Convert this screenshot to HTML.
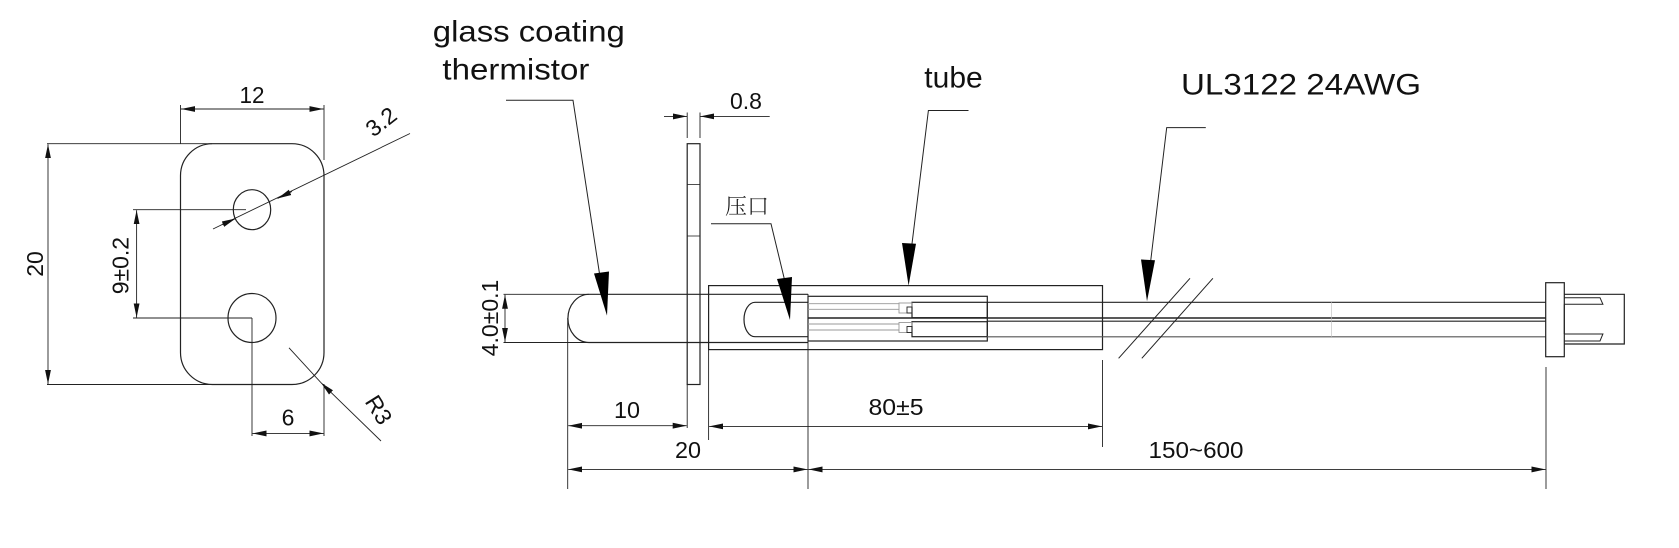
<!DOCTYPE html>
<html><head><meta charset="utf-8"><style>
html,body{margin:0;padding:0;background:#fff;}
svg{display:block;}
text{font-family:"Liberation Sans","Noto Sans CJK SC",sans-serif;fill:#111;}
</style></head><body>
<svg width="1679" height="548" viewBox="0 0 1679 548" xmlns="http://www.w3.org/2000/svg">
<defs>
<marker id="a" markerUnits="userSpaceOnUse" markerWidth="14" markerHeight="8" refX="12" refY="3" orient="auto-start-reverse" viewBox="0 0 12 6">
<path d="M0,0.5 L12,3 L0,5.5 Z" fill="#111"/>
</marker>
</defs>
<g stroke="#222" stroke-width="1.2" fill="none">
<rect x="180.5" y="143.7" width="143.5" height="240.8" rx="32" ry="32"/>
<ellipse cx="252" cy="209.7" rx="18.7" ry="20"/>
<ellipse cx="252" cy="318" rx="24" ry="24.5"/>
<line x1="180.5" y1="105" x2="180.5" y2="143.7" stroke-width="0.9"/>
<line x1="324" y1="105" x2="324" y2="160" stroke-width="0.9"/>
<line x1="181" y1="109" x2="323.5" y2="109" marker-start="url(#a)" marker-end="url(#a)" stroke-width="0.9"/>
<line x1="47" y1="143.7" x2="212" y2="143.7" stroke-width="0.9"/>
<line x1="47" y1="384.5" x2="212" y2="384.5" stroke-width="0.9"/>
<line x1="48" y1="144.2" x2="48" y2="384" marker-start="url(#a)" marker-end="url(#a)" stroke-width="0.9"/>
<line x1="133" y1="209.7" x2="246" y2="209.7" stroke-width="0.9"/>
<line x1="133" y1="318" x2="252" y2="318" stroke-width="0.9"/>
<line x1="136.6" y1="210.2" x2="136.6" y2="317.5" marker-start="url(#a)" marker-end="url(#a)" stroke-width="0.9"/>
<line x1="252" y1="318" x2="252" y2="436" stroke-width="0.9"/>
<line x1="324" y1="384" x2="324" y2="436" stroke-width="0.9"/>
<line x1="252.5" y1="433.4" x2="323.5" y2="433.4" marker-start="url(#a)" marker-end="url(#a)" stroke-width="0.9"/>
<!-- 3.2 leader continuous -->
<line x1="213" y1="229" x2="410" y2="133.5" stroke-width="0.9"/>
<line x1="222" y1="224.6" x2="235.7" y2="218.5" marker-end="url(#a)" stroke-width="0.9"/>
<line x1="292" y1="191.5" x2="277.5" y2="198.5" marker-end="url(#a)" stroke-width="0.9"/>
<line x1="381" y1="441" x2="321" y2="382.7" marker-end="url(#a)" stroke-width="0.9"/>
<line x1="321" y1="382.7" x2="289" y2="347.8" stroke-width="0.9"/>

<path d="M700,294.3 L589,294.3 A21,24 0 0 0 589,342.5 L700,342.5"/>
<line x1="700" y1="294.3" x2="808" y2="294.3"/>
<line x1="700" y1="342.5" x2="808" y2="342.5"/>
<rect x="687.2" y="143.7" width="12.8" height="240.8"/>
<line x1="687.2" y1="184.5" x2="700" y2="184.5" stroke-width="0.8"/>
<line x1="687.2" y1="236" x2="700" y2="236" stroke-width="0.8"/>
<rect x="708.6" y="285.6" width="393.9" height="64"/>
<path d="M808,302.3 L755,302.3 A11,17.2 0 0 0 755,336.7 L808,336.7"/>
<line x1="808" y1="294" x2="808" y2="489" stroke-width="0.9"/>
<rect x="808" y="296.3" width="179.3" height="44.7"/>
<rect x="912" y="302.3" width="75.3" height="15.4"/>
<rect x="912" y="321.7" width="75.3" height="15"/>
<g stroke="#999" stroke-width="0.9">
<line x1="808" y1="303.7" x2="899" y2="303.7"/><line x1="808" y1="309.3" x2="899" y2="309.3"/>
<line x1="808" y1="324" x2="899" y2="324"/><line x1="808" y1="330" x2="899" y2="330"/>
<rect x="899" y="303" width="13" height="10"/><rect x="899" y="322.5" width="13" height="10"/>
</g>
<rect x="907" y="307" width="5" height="6" stroke-width="0.9"/>
<rect x="907" y="326.5" width="5" height="6" stroke-width="0.9"/>
<line x1="987" y1="302.3" x2="1546" y2="302.3"/>
<line x1="808" y1="318" x2="1546" y2="318" stroke-width="1.6"/>
<line x1="987" y1="321.2" x2="1546" y2="321.2"/>
<line x1="987" y1="336.8" x2="1546" y2="336.8" stroke="#555"/>
<line x1="1331.7" y1="302" x2="1331.7" y2="337" stroke="#bbb" stroke-width="0.6"/>
<line x1="1190" y1="278.3" x2="1118.6" y2="358.3" stroke-width="1"/>
<line x1="1212.9" y1="278.3" x2="1141.8" y2="358.3" stroke-width="1"/>
<rect x="1545.7" y="282.7" width="18.6" height="74"/>
<path d="M1564.3,294.3 L1624.3,294.3 L1624.3,344 L1564.3,344"/>
<path d="M1564.3,297.7 L1600,297.7 L1602.9,304.3 L1564.3,304.3 M1564.3,304.3 L1564.3,334 M1564.3,334 L1602.9,334 L1600,341 L1564.3,341" stroke-width="1"/>
<line x1="687.2" y1="112.5" x2="687.2" y2="138" stroke-width="0.9"/>
<line x1="700" y1="112.5" x2="700" y2="138" stroke-width="0.9"/>
<line x1="664" y1="116.4" x2="687" y2="116.4" marker-end="url(#a)" stroke-width="0.9"/>
<line x1="769.7" y1="116.4" x2="700.2" y2="116.4" marker-end="url(#a)" stroke-width="0.9"/>
<line x1="503.5" y1="294.3" x2="589" y2="294.3" stroke-width="0.9"/>
<line x1="503.5" y1="342.5" x2="589" y2="342.5" stroke-width="0.9"/>
<line x1="505" y1="294.8" x2="505" y2="342" marker-start="url(#a)" marker-end="url(#a)" stroke-width="0.9"/>
<line x1="567.7" y1="318" x2="567.7" y2="489" stroke-width="0.9"/>
<line x1="687.2" y1="384.5" x2="687.2" y2="428" stroke-width="0.9"/>
<line x1="708.6" y1="350" x2="708.6" y2="440" stroke-width="0.9"/>
<line x1="1102.5" y1="360" x2="1102.5" y2="447" stroke-width="0.9"/>
<line x1="1546" y1="367" x2="1546" y2="489" stroke-width="0.9"/>
<line x1="568.2" y1="425.7" x2="686.7" y2="425.7" marker-start="url(#a)" marker-end="url(#a)" stroke-width="0.9"/>
<line x1="709.1" y1="426.4" x2="1102" y2="426.4" marker-start="url(#a)" marker-end="url(#a)" stroke-width="0.9"/>
<line x1="568.2" y1="469.4" x2="807.5" y2="469.4" marker-start="url(#a)" marker-end="url(#a)" stroke-width="0.9"/>
<line x1="808.5" y1="469.4" x2="1545.5" y2="469.4" marker-start="url(#a)" marker-end="url(#a)" stroke-width="0.9"/>
<polyline points="506,100.3 573,100.3 602,290" stroke-width="1"/>
<polyline points="711,223.7 771,223.7 787,290" stroke-width="1"/>
<polyline points="968.5,110.5 928.4,110.5 910,260" stroke-width="1"/>
<polyline points="1205.8,127.6 1166.7,127.6 1149,275" stroke-width="1"/>
</g>
<g fill="#000">
<polygon points="607,315.6 594,273.5 609,271.5"/>
<polygon points="790,320 777,279 792,277"/>
<polygon points="908.6,285.6 902,243 916,243.8"/>
<polygon points="1147,301.3 1141,259.5 1155,260.2"/>
</g>
<g font-size="23">
<text x="252" y="103" text-anchor="middle" textLength="25" lengthAdjust="spacingAndGlyphs">12</text>
<text x="288" y="425.7" text-anchor="middle">6</text>
<text transform="translate(43,264) rotate(-90)" text-anchor="middle">20</text>
<text transform="translate(128.5,265.6) rotate(-90)" text-anchor="middle">9±0.2</text>
<text transform="translate(498,318) rotate(-90)" text-anchor="middle">4.0±0.1</text>
<text transform="translate(386,128) rotate(-38)" text-anchor="middle">3.2</text>
<text transform="translate(372,414) rotate(58)" text-anchor="middle">R3</text>
<text x="746" y="109" text-anchor="middle">0.8</text>
<text x="627" y="418" text-anchor="middle" textLength="26" lengthAdjust="spacingAndGlyphs">10</text>
<text x="688" y="458" text-anchor="middle" textLength="26" lengthAdjust="spacingAndGlyphs">20</text>
<text x="896" y="415" text-anchor="middle" textLength="55" lengthAdjust="spacingAndGlyphs">80±5</text>
<text x="1196" y="458" text-anchor="middle" textLength="95" lengthAdjust="spacingAndGlyphs">150~600</text>
</g>
<text x="432.8" y="41.5" font-size="30" textLength="192" lengthAdjust="spacingAndGlyphs">glass coating</text>
<text x="442.4" y="79.7" font-size="30" textLength="147" lengthAdjust="spacingAndGlyphs">thermistor</text>
<text x="953.5" y="87.4" font-size="30" text-anchor="middle">tube</text>
<text x="1181" y="94.4" font-size="30" textLength="240" lengthAdjust="spacingAndGlyphs">UL3122 24AWG</text>
<text x="725" y="214" font-size="22" font-weight="300" fill="#333" style="font-family:'Noto Serif CJK SC','Noto Sans CJK SC',serif">压口</text>
</svg>
</body></html>
